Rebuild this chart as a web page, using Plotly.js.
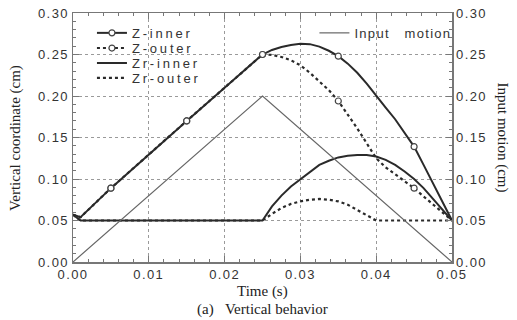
<!DOCTYPE html>
<html>
<head>
<meta charset="utf-8">
<script src="https://cdn.plot.ly/plotly-3.0.1.min.js"></script>
<style>
html,body{margin:0;padding:0;background:#fff;}
#chart{width:517px;height:320px;}
.xtick text,.ytick text,.y2tick text{letter-spacing:1.4px;}
</style>
</head>
<body>
<div id="chart"></div>
<script>
// ---- data ----
var time = [0, 0.001, 0.005, 0.01, 0.015, 0.02, 0.025,
  0.02625, 0.0275, 0.02875, 0.03, 0.03125, 0.0325, 0.03375, 0.035, 0.03625, 0.0375,
  0.03875, 0.04, 0.04125, 0.0425, 0.04375, 0.045, 0.04625, 0.0475, 0.04875, 0.05];
var zInner  = [0.057, 0.054, 0.089, 0.130, 0.170, 0.210, 0.250,
  0.2555, 0.259, 0.2615, 0.263, 0.2625, 0.2595, 0.2545, 0.248, 0.239, 0.228,
  0.215, 0.200, 0.186, 0.172, 0.156, 0.139, 0.117, 0.095, 0.073, 0.050];
var zOuter  = [0.057, 0.054, 0.089, 0.130, 0.170, 0.210, 0.250,
  0.2495, 0.247, 0.243, 0.237, 0.228, 0.218, 0.207, 0.194, 0.178, 0.161,
  0.143, 0.125, 0.114, 0.106, 0.097, 0.089, 0.079, 0.069, 0.059, 0.050];
var zrInner = [0.057, 0.050, 0.050, 0.050, 0.050, 0.050, 0.050,
  0.067, 0.080, 0.091, 0.100, 0.109, 0.117, 0.122, 0.126, 0.128, 0.129,
  0.129, 0.127, 0.123, 0.117, 0.109, 0.100, 0.089, 0.076, 0.063, 0.050];
var zrOuter = [0.057, 0.050, 0.050, 0.050, 0.050, 0.050, 0.050,
  0.058, 0.065, 0.070, 0.073, 0.075, 0.076, 0.075, 0.073, 0.069, 0.063,
  0.057, 0.050, 0.050, 0.050, 0.050, 0.050, 0.050, 0.050, 0.050, 0.050];
var markTime    = [0.005, 0.015, 0.025, 0.035, 0.045];
var zInnerMarks = [0.089, 0.170, 0.250, 0.248, 0.139];
var zOuterMarks = [0.089, 0.170, 0.250, 0.194, 0.089];
var inputTime = [0, 0.025, 0.05];
var inputMotion = [0, 0.20, 0];
var yTicks = [0, 0.05, 0.10, 0.15, 0.20, 0.25, 0.30];
var xTicks = [0, 0.01, 0.02, 0.03, 0.04, 0.05];
var legendNames = ['Z-inner', 'Z-outer', 'Zr-inner', 'Zr-outer', 'Input\u00a0\u00a0\u00a0motion'];

var dark = '#2a2a2a';
var mkFill = {symbol:'circle', size:6, color:'#fff', line:{width:1.2, color:'#444'}};

var traces = [
  // legend entries (line + marker sample)
  {x:[null], y:[null], mode:'lines+markers', name:legendNames[0], line:{color:dark, width:2}, marker:mkFill, legend:'legend'},
  {x:[null], y:[null], mode:'lines+markers', name:legendNames[1], line:{color:dark, width:2, dash:'dot'}, marker:mkFill, legend:'legend3'},
  // curves
  {x:time, y:zInner, mode:'lines', line:{color:dark, width:2}, showlegend:false},
  {x:time, y:zOuter, mode:'lines', line:{color:dark, width:2.2, dash:'dot'}, showlegend:false},
  {x:time, y:zrInner, mode:'lines', name:legendNames[2], line:{color:dark, width:2}, legend:'legend4'},
  {x:time, y:zrOuter, mode:'lines', name:legendNames[3], line:{color:dark, width:2.2, dash:'dot'}, legend:'legend5'},
  {x:markTime, y:zInnerMarks, mode:'markers', marker:mkFill, showlegend:false},
  {x:markTime, y:zOuterMarks, mode:'markers', marker:mkFill, showlegend:false},
  {x:inputTime, y:inputMotion, mode:'lines', name:legendNames[4], line:{color:'#666', width:1.2}, yaxis:'y2', legend:'legend2'}
];

var sans = 'Arial, Liberation Sans, sans-serif';
var serif = 'Liberation Serif, Times New Roman, serif';
var tickFont = {family:sans, size:13, color:'#333'};
var axisCommon = {
  showline:true, linecolor:'#777', linewidth:1.5,
  ticks:'inside', ticklen:6, tickwidth:1, tickcolor:'#777',
  showgrid:true, gridcolor:'#9a9a9a', gridwidth:1, griddash:'dot',
  zeroline:false, tickfont:tickFont, tickformat:'.2f'
};
function leg(x, y) {
  return {x:x, y:y, xanchor:'left', yanchor:'middle', bgcolor:'rgba(255,255,255,0)',
    font:{family:sans, size:13, color:'#333'}};
}

var layout = {
  width:517, height:320,
  margin:{l:73, r:65, t:13, b:58},
  paper_bgcolor:'#fff', plot_bgcolor:'#fff',
  showlegend:true,
  xaxis: Object.assign({}, axisCommon, {
    range:[0, 0.05], tickvals:xTicks, mirror:'ticks',
    minor:{ticks:'inside', ticklen:3, dtick:0.002, tickcolor:'#777', showgrid:false}
  }),
  yaxis: Object.assign({}, axisCommon, {
    range:[0, 0.30], tickvals:yTicks,
    minor:{ticks:'inside', ticklen:3, dtick:0.01, tickcolor:'#777', showgrid:false}
  }),
  yaxis2: Object.assign({}, axisCommon, {
    range:[0, 0.30], tickvals:yTicks, overlaying:'y', side:'right', showgrid:false,
    minor:{ticks:'inside', ticklen:3, dtick:0.01, tickcolor:'#777', showgrid:false}
  }),
  legend: leg(0.05, 0.92),
  legend3: leg(0.05, 0.859),
  legend4: leg(0.05, 0.799),
  legend5: leg(0.05, 0.739),
  legend2: leg(0.637, 0.92),
  annotations:[
    {text:'Vertical coordinate (cm)', xref:'paper', yref:'paper', x:-0.152, y:0.5, xanchor:'center', yanchor:'middle', textangle:-90, showarrow:false,
     font:{family:serif, size:15, color:'#222'}},
    {text:'Input motion (cm)', xref:'paper', yref:'paper', x:1.132, y:0.5, xanchor:'center', yanchor:'middle', textangle:90, showarrow:false,
     font:{family:serif, size:15, color:'#222'}},
    {text:'Time (s)', xref:'paper', yref:'paper', x:0.5, y:-0.12, xanchor:'center', yanchor:'middle', showarrow:false,
     font:{family:serif, size:15, color:'#222'}},
    {text:'(a)\u00a0\u00a0\u00a0Vertical behavior', xref:'paper', yref:'paper', x:0.5, y:-0.19, xanchor:'center', yanchor:'middle', showarrow:false,
     font:{family:serif, size:15, color:'#222'}}
  ]
};

var gdDiv = document.getElementById('chart');
function spaceLegend() {
  // widen the legend lettering as in the reference
  document.querySelectorAll('text').forEach(function(t) {
    var idx = legendNames.indexOf(t.textContent);
    if (idx < 0) return;
    t.style.letterSpacing = idx === 4 ? '1.3px' : '2.8px';
    var el = t.parentNode;
    while (el && el !== gdDiv) {
      if (el.removeAttribute) el.removeAttribute('clip-path');
      el = el.parentNode;
    }
  });
}
Plotly.newPlot(gdDiv, traces, layout, {staticPlot:true, displayModeBar:false}).then(function() {
  spaceLegend();
  setTimeout(spaceLegend, 30);
});
</script>
</body>
</html>
